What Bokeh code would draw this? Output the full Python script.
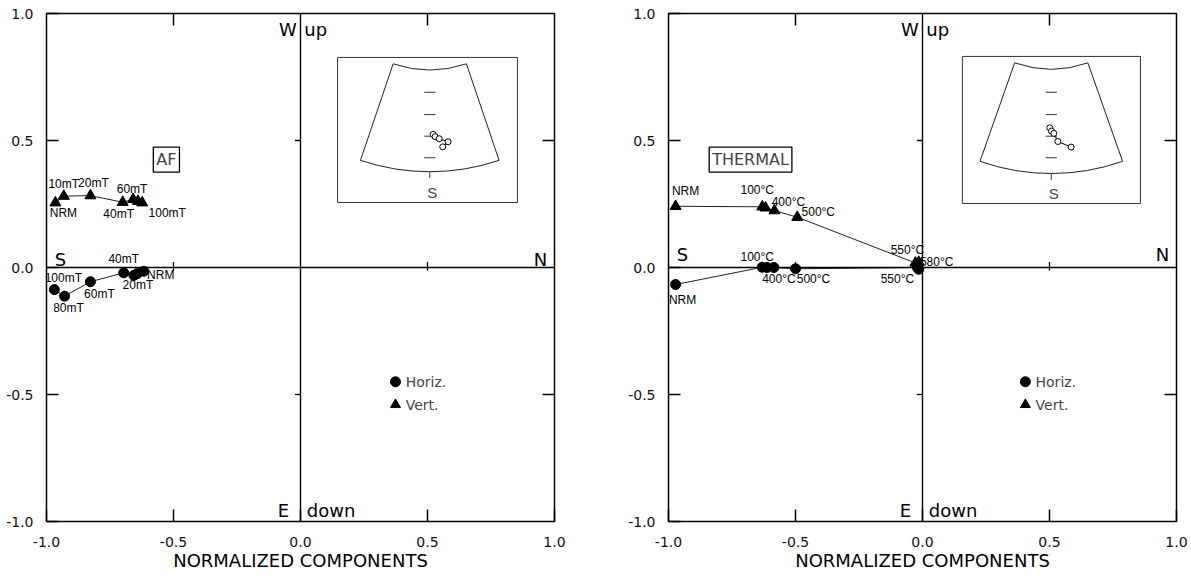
from bokeh.plotting import figure
from bokeh.layouts import row
from bokeh.models import ColumnDataSource, Label, Span, FixedTicker, Range1d, PrintfTickFormatter
from bokeh.core.properties import value
from bokeh.embed import file_html
from bokeh.resources import INLINE

FONT = "DejaVu Sans"
SMALL_FONT = "Liberation Sans"
PX = 254.0  # pixels per data unit (used only for label offsets / tick lengths)

# ---------------- data: AF demagnetisation ----------------
af_vert_x = [-0.965, -0.932, -0.827, -0.700, -0.659, -0.640, -0.623]
af_vert_y = [0.255, 0.281, 0.283, 0.257, 0.268, 0.261, 0.255]
af_vert_lab = ["NRM", "10mT", "20mT", "40mT", "60mT", "", "100mT"]
af_horiz_x = [-0.617, -0.643, -0.656, -0.696, -0.827, -0.929, -0.969]
af_horiz_y = [-0.015, -0.024, -0.031, -0.021, -0.056, -0.113, -0.087]
af_horiz_lab = ["NRM", "", "20mT", "40mT", "60mT", "80mT", "100mT"]
af_inset_x = [0.522, 0.530, 0.546, 0.581, 0.560]
af_inset_y = [0.524, 0.515, 0.507, 0.495, 0.475]

# ---------------- data: thermal demagnetisation ----------------
th_vert_x = [-0.972, -0.631, -0.618, -0.583, -0.493, -0.028, -0.015]
th_vert_y = [0.241, 0.239, 0.235, 0.224, 0.198, 0.018, 0.021]
th_vert_lab = ["NRM", "100°C", "", "400°C", "500°C", "550°C", "580°C"]
th_horiz_x = [-0.972, -0.631, -0.612, -0.585, -0.500, -0.020, -0.015]
th_horiz_y = [-0.067, 0.001, 0.000, 0.000, -0.005, 0.000, -0.007]
th_horiz_lab = ["NRM", "100°C", "", "400°C", "500°C", "550°C", ""]
th_inset_x = [0.501, 0.508, 0.517, 0.533, 0.585]
th_inset_y = [0.550, 0.537, 0.528, 0.496, 0.474]

axis_ticks = [-1.0, -0.5, 0.0, 0.5, 1.0]
inner_ticks = [-0.5, 0.5]
inset_marks = [0.690, 0.602, 0.517, 0.432]

# ---------------- layout (label offsets in px: dx right, dy down) ----------------
af_vert_off = [(8, 10), (0, -12), (3, -13), (-4, 12), (-1, -10), (0, 0), (25, 10)]
af_horiz_off = [(17, 4), (0, 0), (4, 10), (0, -14), (9, 12), (4, 12), (9, -12)]
th_vert_off = [(10, -15), (-5, -17), (0, 0), (14, -9), (21, -5), (-8, -13), (18, 0)]
th_horiz_off = [(7, 15), (-5, -10), (0, 0), (5, 11), (18, 10), (-20, 11), (0, 0)]


def labels_source(xs, ys, labs, offs):
    lx, ly, lt = [], [], []
    for x, y, t, (dx, dy) in zip(xs, ys, labs, offs):
        if t:
            lx.append(x + dx / PX)
            ly.append(y - dy / PX)
            lt.append(t)
    return ColumnDataSource(dict(x=lx, y=ly, t=lt))


def make_panel(width, bl, br, title, title_xy, sn_y, vx, vy, vlab, voff, hx, hy, hlab, hoff,
               ix, iy, inset_box, wedge, leg_xy):
    p = figure(width=width, height=577, x_range=Range1d(-1, 1), y_range=Range1d(-1, 1),
               output_backend="svg", toolbar_location=None,
               min_border_left=bl, min_border_right=br, min_border_top=13, min_border_bottom=56)
    p.grid.visible = False
    p.outline_line_color = "black"
    p.outline_line_width = 1.5
    p.background_fill_color = "white"
    p.border_fill_color = "white"

    for ax in [p.xaxis[0], p.yaxis[0]]:
        ax.ticker = FixedTicker(ticks=axis_ticks)
        ax.formatter = PrintfTickFormatter(format="%.1f")
        ax.axis_line_color = None
        ax.major_tick_in = 12
        ax.major_tick_out = 0
        ax.major_tick_line_width = 1.5
        ax.minor_tick_line_color = None
        ax.major_label_text_font = FONT
        ax.major_label_text_font_size = "14px"
        ax.major_label_text_color = "#111111"
    p.xaxis.major_label_standoff = 15
    p.yaxis.major_label_standoff = 13
    p.xaxis.axis_label = "NORMALIZED COMPONENTS"
    p.xaxis.axis_label_text_font = FONT
    p.xaxis.axis_label_text_font_size = "18px"
    p.xaxis.axis_label_text_font_style = "normal"
    p.xaxis.axis_label_text_color = "black"
    p.xaxis.axis_label_standoff = 0

    # inward ticks on the top and right edges
    tl = 12 / PX
    p.segment(x0=inner_ticks, y0=[1.0] * 2, x1=inner_ticks, y1=[1.0 - tl] * 2,
              line_color="black", line_width=1.5)
    p.segment(x0=[1.0] * 2, y0=inner_ticks, x1=[1.0 - tl] * 2, y1=inner_ticks,
              line_color="black", line_width=1.5)

    # central cross
    p.add_layout(Span(location=0, dimension="height", line_color="black", line_width=1.4))
    p.add_layout(Span(location=0, dimension="width", line_color="black", line_width=1.4))
    p.segment(x0=inner_ticks, y0=[-0.012] * 2, x1=inner_ticks, y1=[0.022] * 2,
              line_color="black", line_width=1.3)
    p.segment(x0=[-0.022] * 2, y0=inner_ticks, x1=[0.0] * 2, y1=inner_ticks,
              line_color="black", line_width=1.3)

    # direction labels
    big = dict(text_font=FONT, text_font_size="18px", text_color="black", text_baseline="middle")
    p.add_layout(Label(x=-0.015, y=0.937, text="W", text_align="right", **big))
    p.add_layout(Label(x=0.015, y=0.937, text="up", text_align="left", **big))
    p.add_layout(Label(x=-0.045, y=-0.957, text="E", text_align="right", **big))
    p.add_layout(Label(x=0.025, y=-0.957, text="down", text_align="left", **big))
    p.add_layout(Label(x=-0.945, y=sn_y, text="S", text_align="center", **big))
    p.add_layout(Label(x=0.945, y=sn_y, text="N", text_align="center", **big))

    # boxed title
    p.add_layout(Label(x=title_xy[0], y=title_xy[1], text=title, text_align="center",
                       text_baseline="middle", text_font=FONT, text_font_size="16px",
                       border_line_color="black", border_line_width=1.3, padding=3,
                       background_fill_color="white"))

    # series
    p.line(vx, vy, line_color="#222222", line_width=1)
    p.line(hx, hy, line_color="#222222", line_width=1)
    p.scatter(vx, vy, marker="triangle", size=11, fill_color="black", line_color="black")
    p.scatter(hx, hy, marker="circle", size=10, fill_color="black", line_color="black")
    for src in [labels_source(vx, vy, vlab, voff), labels_source(hx, hy, hlab, hoff)]:
        p.text(x="x", y="y", text="t", source=src, text_font=value(SMALL_FONT),
               text_font_size="12px", text_align="center", text_baseline="middle",
               text_color="black")

    # inset
    l, r, b, t = inset_box
    p.quad(left=[l], right=[r], bottom=[b], top=[t], fill_color=None,
           line_color="#333333", line_width=1)
    cx, cy, r1, r2, half = wedge
    p.annular_wedge(x=[cx], y=[cy], inner_radius=r1, outer_radius=r2,
                    start_angle=-90 - half, end_angle=-90 + half, start_angle_units="deg",
                    end_angle_units="deg", fill_color=None, line_color="#222222", line_width=1)
    p.segment(x0=[cx - 0.022] * 4, y0=inset_marks, x1=[cx + 0.022] * 4, y1=inset_marks,
              line_color="#333333", line_width=1)
    p.segment(x0=[cx], y0=[cy - r2 - 0.002], x1=[cx], y1=[cy - r2 - 0.025],
              line_color="#333333", line_width=1)
    p.add_layout(Label(x=cx + 0.01, y=cy - r2 - 0.08, text="S", text_align="center",
                       text_baseline="middle", text_font="Liberation Sans",
                       text_font_size="15px"))
    p.line(ix, iy, line_color="black", line_width=1)
    p.scatter(ix, iy, marker="circle", size=6, fill_color="white", line_color="black",
              line_width=1)

    # legend
    lx, ly = leg_xy
    p.scatter([lx], [ly], marker="circle", size=10, fill_color="black", line_color="black")
    p.scatter([lx], [ly - 0.09], marker="triangle", size=10, fill_color="black",
              line_color="black")
    p.add_layout(Label(x=lx + 0.04, y=ly, text="Horiz.", text_baseline="middle",
                       text_font=FONT, text_font_size="14px"))
    p.add_layout(Label(x=lx + 0.04, y=ly - 0.09, text="Vert.", text_baseline="middle",
                       text_font=FONT, text_font_size="14px"))
    return p


p1 = make_panel(574, 46, 20, "AF", (-0.528, 0.425), 0.03,
                af_vert_x, af_vert_y, af_vert_lab, af_vert_off,
                af_horiz_x, af_horiz_y, af_horiz_lab, af_horiz_off,
                af_inset_x, af_inset_y, (0.146, 0.854, 0.256, 0.827),
                (0.509, 1.228, 0.45, 0.851, 18.7), (0.374, -0.45))
p2 = make_panel(617, 94, 15, "THERMAL", (-0.677, 0.425), 0.05,
                th_vert_x, th_vert_y, th_vert_lab, th_vert_off,
                th_horiz_x, th_horiz_y, th_horiz_lab, th_horiz_off,
                th_inset_x, th_inset_y, (0.157, 0.858, 0.252, 0.831),
                (0.507, 1.215, 0.434, 0.845, 19.4), (0.405, -0.45))

layout = row(p1, p2)
open("out.html", "w").write(file_html(layout, INLINE))
